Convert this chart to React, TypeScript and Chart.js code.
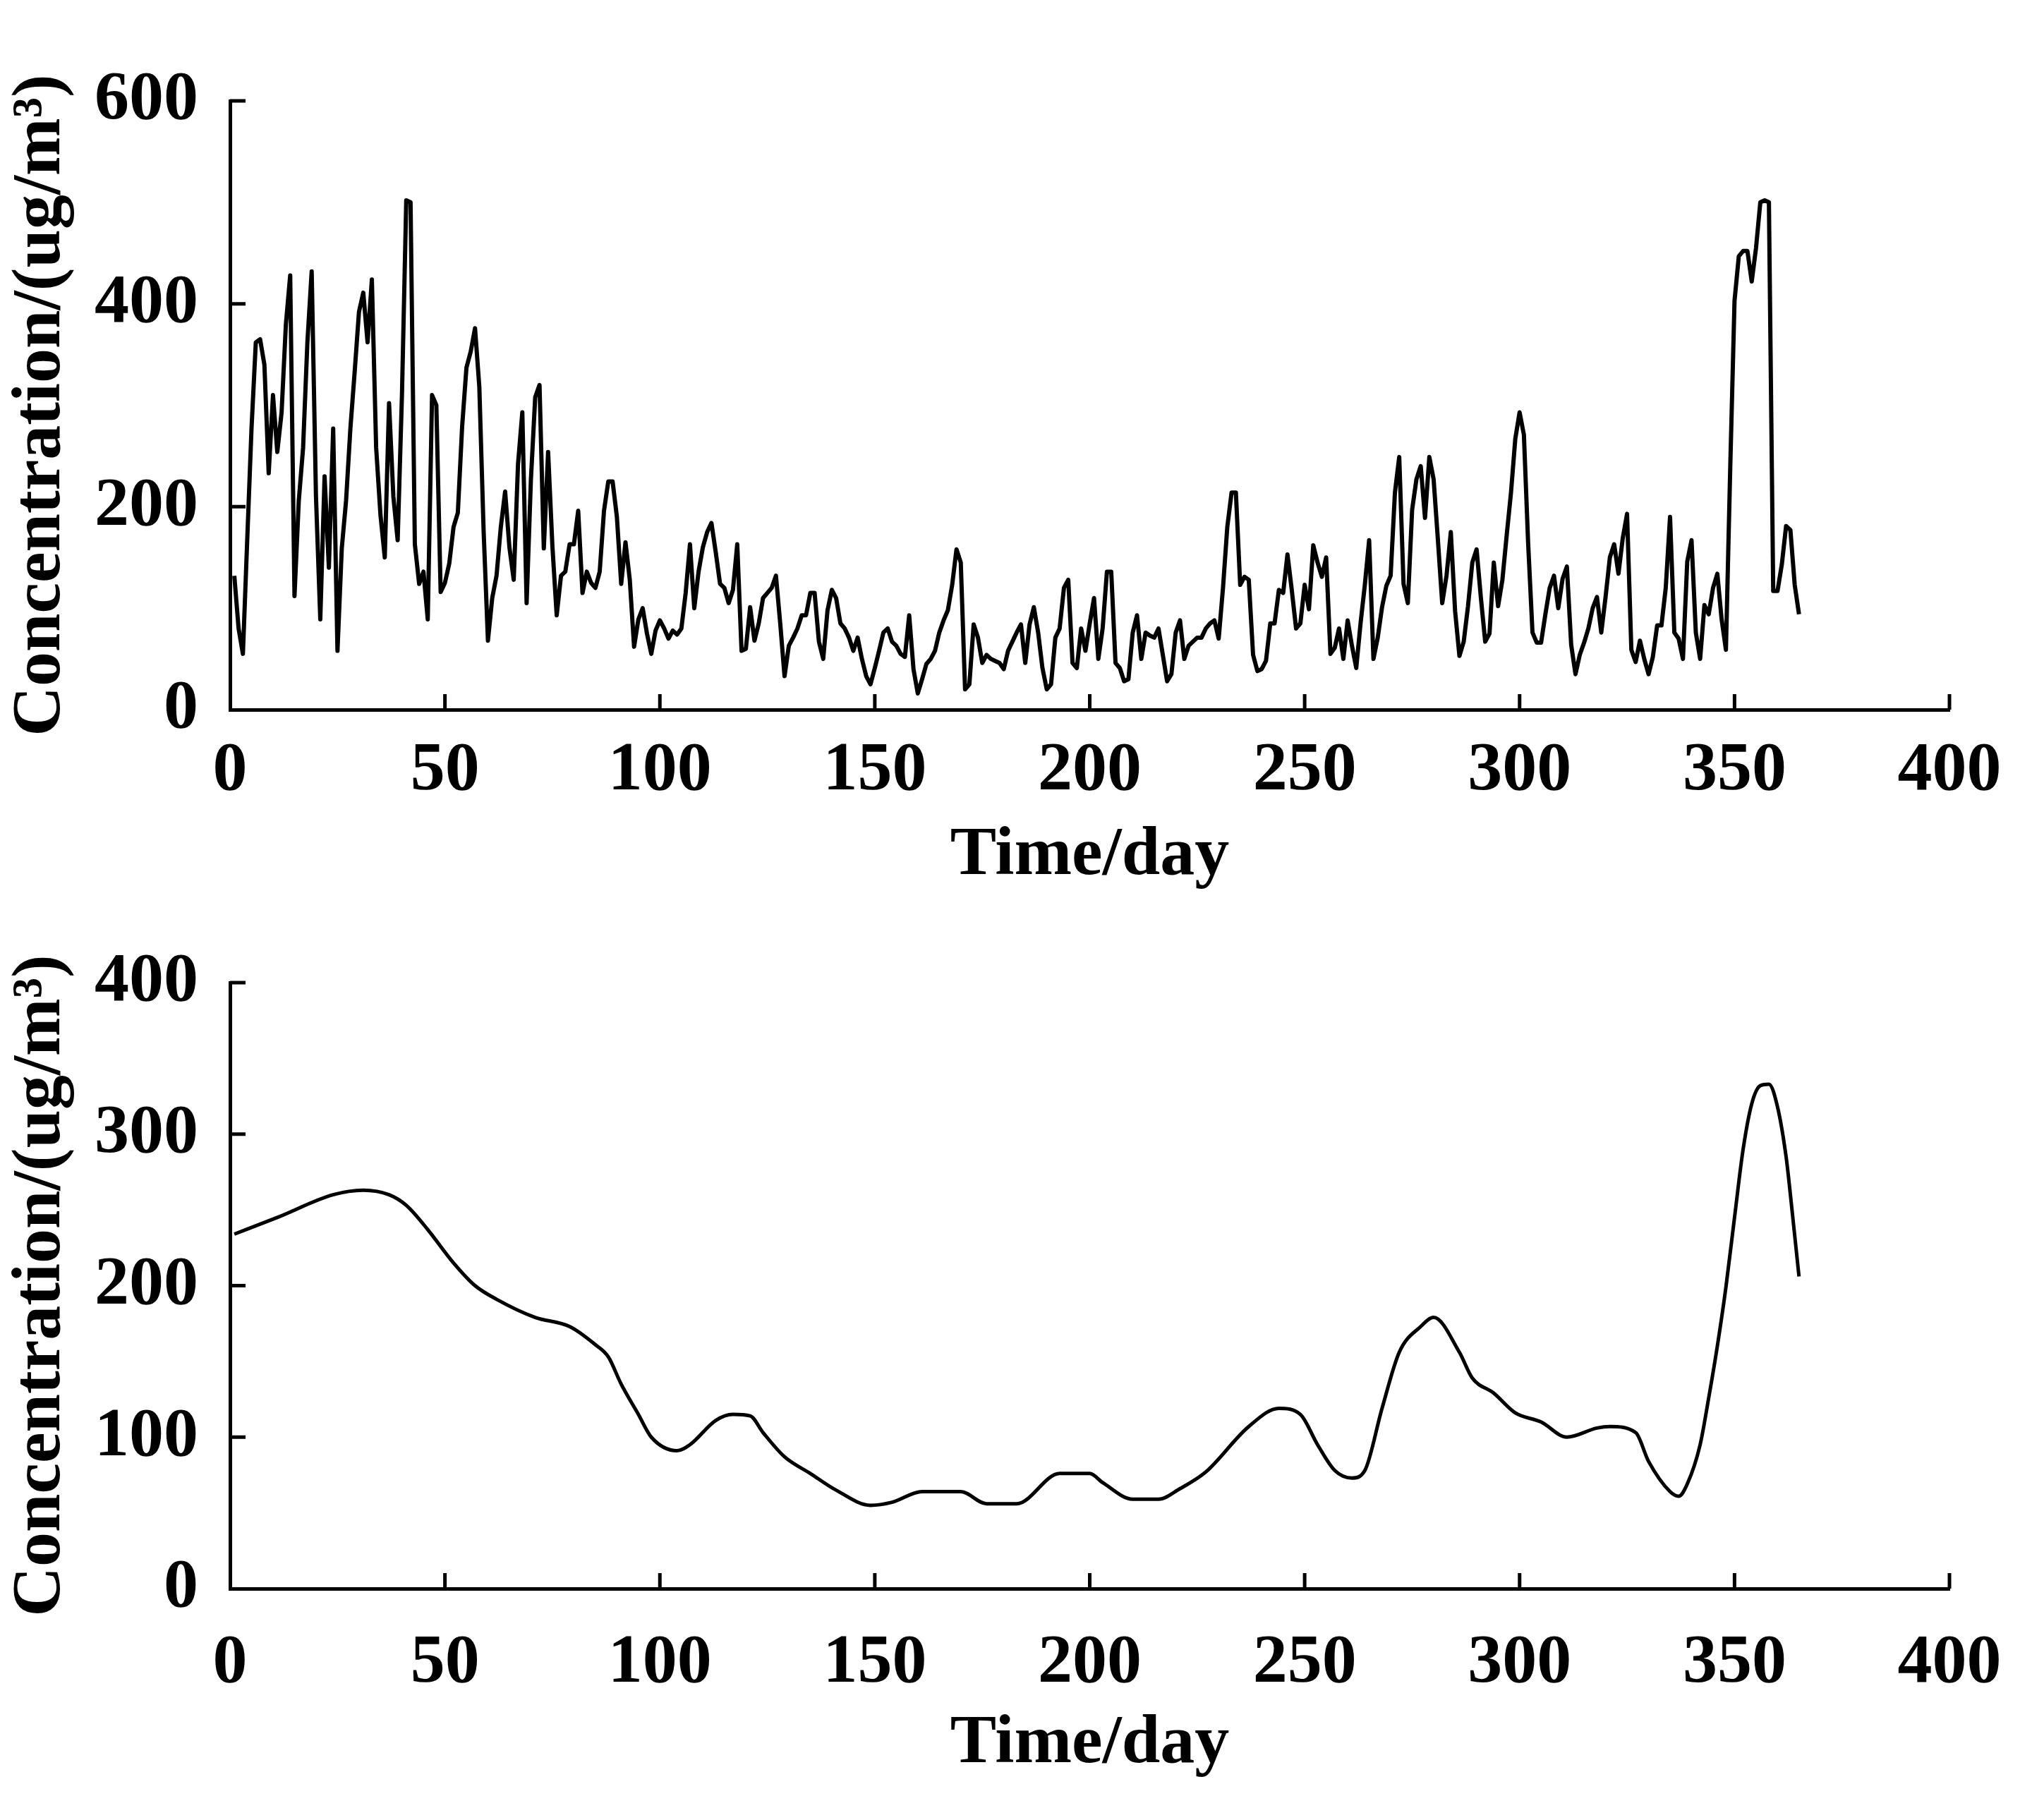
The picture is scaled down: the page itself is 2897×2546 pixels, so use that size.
import { useEffect, useRef } from 'react';
import { Chart, registerables } from 'chart.js';

Chart.register(...registerables);

const FONT = "'Liberation Serif', 'Times New Roman', serif";
const X_TITLE = 'Time/day';
const Y_TITLE = 'Concentration/(ug/m³)';

const X_TICKS = [0, 50, 100, 150, 200, 250, 300, 350, 400];
const RAW_Y_TICKS = [0, 200, 400, 600];
const SMOOTH_Y_TICKS = [0, 100, 200, 300, 400];

// daily concentration (day 1 .. 365)
const DAYS_1_60 = [
  132, 80, 55, 167, 277, 362, 365, 340, 233, 310,
  254, 293, 380, 428, 112, 206, 258, 362, 432, 210,
  89, 230, 140, 277, 58, 159, 206, 277, 333, 392,
  411, 362, 424, 258, 192, 150, 302, 210, 167, 310,
  502, 500, 163, 124, 136, 89, 310, 300, 116, 125,
  144, 180, 194, 279, 337, 353, 376, 318, 176, 68,
];
const DAYS_61_120 = [
  110, 132, 180, 215, 160, 128, 242, 293, 105, 227,
  308, 320, 159, 254, 161, 93, 132, 136, 163, 163,
  196, 115, 136, 125, 120, 136, 196, 225, 225, 190,
  124, 165, 128, 62, 89, 100, 75, 55, 78, 88,
  80, 70, 78, 74, 80, 115, 163, 100, 136, 160,
  175, 184, 155, 124, 120, 105, 118, 163, 58, 60,
];
const DAYS_121_180 = [
  101, 68, 85, 110, 115, 120, 132, 85, 33, 63,
  71, 80, 93, 93, 115, 115, 67, 50, 98, 118,
  110, 85, 80, 71, 58, 71, 50, 33, 25, 41,
  58, 76, 80, 67, 63, 55, 52, 93, 40, 16,
  30, 45, 50, 58, 76, 88, 98, 123, 158, 145,
  20, 25, 84, 71, 46, 54, 50, 48, 46, 40,
];
const DAYS_181_240 = [
  58, 67, 76, 84, 46, 84, 101, 76, 41, 20,
  25, 71, 80, 120, 128, 46, 41, 80, 58, 85,
  110, 50, 80, 136, 136, 46, 41, 28, 30, 76,
  93, 50, 76, 73, 71, 80, 54, 28, 35, 76,
  88, 50, 63, 67, 71, 71, 80, 85, 88, 70,
  120, 180, 214, 214, 123, 131, 128, 54, 38, 40,
];
const DAYS_241_300 = [
  48, 85, 85, 118, 115, 153, 118, 80, 85, 123,
  99, 162, 145, 131, 150, 55, 61, 80, 50, 88,
  63, 41, 85, 123, 167, 50, 71, 101, 122, 132,
  214, 249, 124, 105, 197, 227, 240, 189, 249, 227,
  167, 105, 132, 175, 97, 53, 67, 102, 145, 158,
  110, 67, 75, 145, 102, 128, 172, 214, 267, 293,
];
const DAYS_301_365 = [
  271, 163, 76, 66, 66, 94, 120, 132, 100, 129,
  141, 64, 35, 54, 66, 80, 100, 111, 76, 111,
  150, 163, 134, 169, 193, 59, 47, 68, 50, 35,
  52, 83, 83, 120, 190, 76, 70, 50, 146, 167,
  76, 50, 103, 94, 120, 134, 89, 59, 238, 403,
  447, 452, 452, 422, 455, 500, 502, 500, 117, 117,
  143, 181, 177, 123, 94,
];

const RAW_VALUES = [
  ...DAYS_1_60, ...DAYS_61_120, ...DAYS_121_180,
  ...DAYS_181_240, ...DAYS_241_300, ...DAYS_301_365,
];
const RAW_DAYS = RAW_VALUES.map((_, i) => i + 1);

// smoothed curve, lower panel
const SMOOTH_DAYS = [
  1, 11, 24, 31, 37, 41, 46, 52, 57, 62,
  71, 79, 85, 88, 91, 95, 98, 104, 107, 113,
  117, 121, 124, 129, 135, 141, 149, 154, 161, 170,
  176, 183, 193, 200, 203, 210, 216, 221, 227, 237,
  244, 249, 253, 257, 261, 264, 268, 272, 277, 280,
  286, 289, 294, 299, 305, 311, 318, 321, 327, 330,
  335, 337, 339, 342, 344, 346, 348, 350, 352, 354,
  356, 358, 360, 362, 363, 365,
];
const SMOOTH_VALUES = [
  234, 245, 260, 263, 260, 253, 237, 215, 200, 191,
  179, 173, 161, 153, 135, 115, 100, 91, 95, 111,
  115, 114, 103, 87, 76, 65, 55, 57, 64, 64,
  56, 56, 76, 76, 70, 59, 59, 66, 77, 107,
  119, 115, 95, 78, 73, 78, 119, 156, 173, 179,
  156, 139, 129, 116, 110, 100, 106, 107, 103, 84,
  64, 61, 69, 95, 126, 160, 199, 245, 290, 320,
  332, 333, 318, 285, 260, 206,
];

const W = 2881;
const H = 1265;
const AXIS_LEFT = 318;
const PAD_RIGHT = 126;
const TICK_LEN = 22;

// ticks point into the plot, like the original figure
const inwardTicks = {
  id: 'inwardTicks',
  afterDraw(chart: any) {
    const { ctx, chartArea, scales } = chart;
    ctx.save();
    ctx.strokeStyle = '#000';
    ctx.lineWidth = 5;
    ctx.beginPath();
    scales.x.ticks.forEach((t: any) => {
      if (t.value === 0) return;
      const px = scales.x.getPixelForValue(t.value);
      ctx.moveTo(px, chartArea.bottom);
      ctx.lineTo(px, chartArea.bottom - TICK_LEN);
    });
    scales.y.ticks.forEach((t: any) => {
      if (t.value === 0) return;
      const py = scales.y.getPixelForValue(t.value);
      ctx.moveTo(chartArea.left, py);
      ctx.lineTo(chartArea.left + TICK_LEN, py);
    });
    ctx.stroke();
    ctx.restore();
  },
};

type PanelProps = {
  days: number[];
  values: number[];
  yTicks: number[];
  smooth: boolean;
  lineWidth: number;
  top: number;
  xAxisHeight: number;
  xTickPad: number;
  xTitlePad: number;
};

function Panel({ days, values, yTicks, smooth, lineWidth, top, xAxisHeight, xTickPad, xTitlePad }: PanelProps) {
  const ref = useRef<HTMLCanvasElement>(null);
  useEffect(() => {
    if (!ref.current) return;
    const tickFont = { family: FONT, size: 98, weight: 'bold' as const, lineHeight: 1.2 };
    const titleFont = { family: FONT, size: 98, weight: 'bold' as const, lineHeight: 1 };
    const c = new Chart(ref.current, {
      type: 'line',
      data: {
        datasets: [{
          data: days.map((d, i) => ({ x: d, y: values[i] })),
          borderColor: '#000',
          borderWidth: lineWidth,
          borderJoinStyle: 'round',
          pointRadius: 0,
          fill: false,
          tension: smooth ? 0.4 : 0,
          cubicInterpolationMode: smooth ? 'monotone' : 'default',
        }],
      },
      options: {
        animation: false,
        responsive: false,
        devicePixelRatio: 1,
        layout: { padding: { top, right: PAD_RIGHT, bottom: 0, left: 0 } },
        plugins: { legend: { display: false }, tooltip: { enabled: false } },
        scales: {
          x: {
            type: 'linear',
            min: 0,
            max: 400,
            afterBuildTicks: (s: any) => { s.ticks = X_TICKS.map(v => ({ value: v })); },
            afterFit: (s: any) => { s.height = xAxisHeight; },
            grid: { display: false, drawTicks: false },
            border: { display: true, color: '#000', width: 5 },
            ticks: { autoSkip: false, maxRotation: 0, padding: xTickPad, color: '#000', font: tickFont },
            title: { display: true, text: X_TITLE, color: '#000', font: titleFont, padding: { top: 0, bottom: xTitlePad } },
          },
          y: {
            min: 0,
            max: yTicks[yTicks.length - 1],
            afterBuildTicks: (s: any) => { s.ticks = yTicks.map(v => ({ value: v })); },
            afterFit: (s: any) => { s.width = AXIS_LEFT; },
            grid: { display: false, drawTicks: false },
            border: { display: true, color: '#000', width: 5 },
            ticks: { padding: 45, color: '#000', font: tickFont },
            title: { display: true, text: Y_TITLE, color: '#000', font: titleFont, padding: { top: 2, bottom: 0 } },
          },
        },
      },
      plugins: [inwardTicks],
    } as any);
    return () => c.destroy();
  }, []);
  return <canvas ref={ref} width={W} height={H} style={{ display: 'block', width: W, height: H }} />;
}

export default function App() {
  return (
    <div style={{ background: '#fff' }}>
      <Panel days={RAW_DAYS} values={RAW_VALUES} yTicks={RAW_Y_TICKS} smooth={false} lineWidth={6}
        top={135} xAxisHeight={267} xTickPad={29} xTitlePad={10} />
      <Panel days={SMOOTH_DAYS} values={SMOOTH_VALUES} yTicks={SMOOTH_Y_TICKS} smooth={true} lineWidth={5}
        top={120} xAxisHeight={286} xTickPad={48} xTitlePad={16} />
    </div>
  );
}
